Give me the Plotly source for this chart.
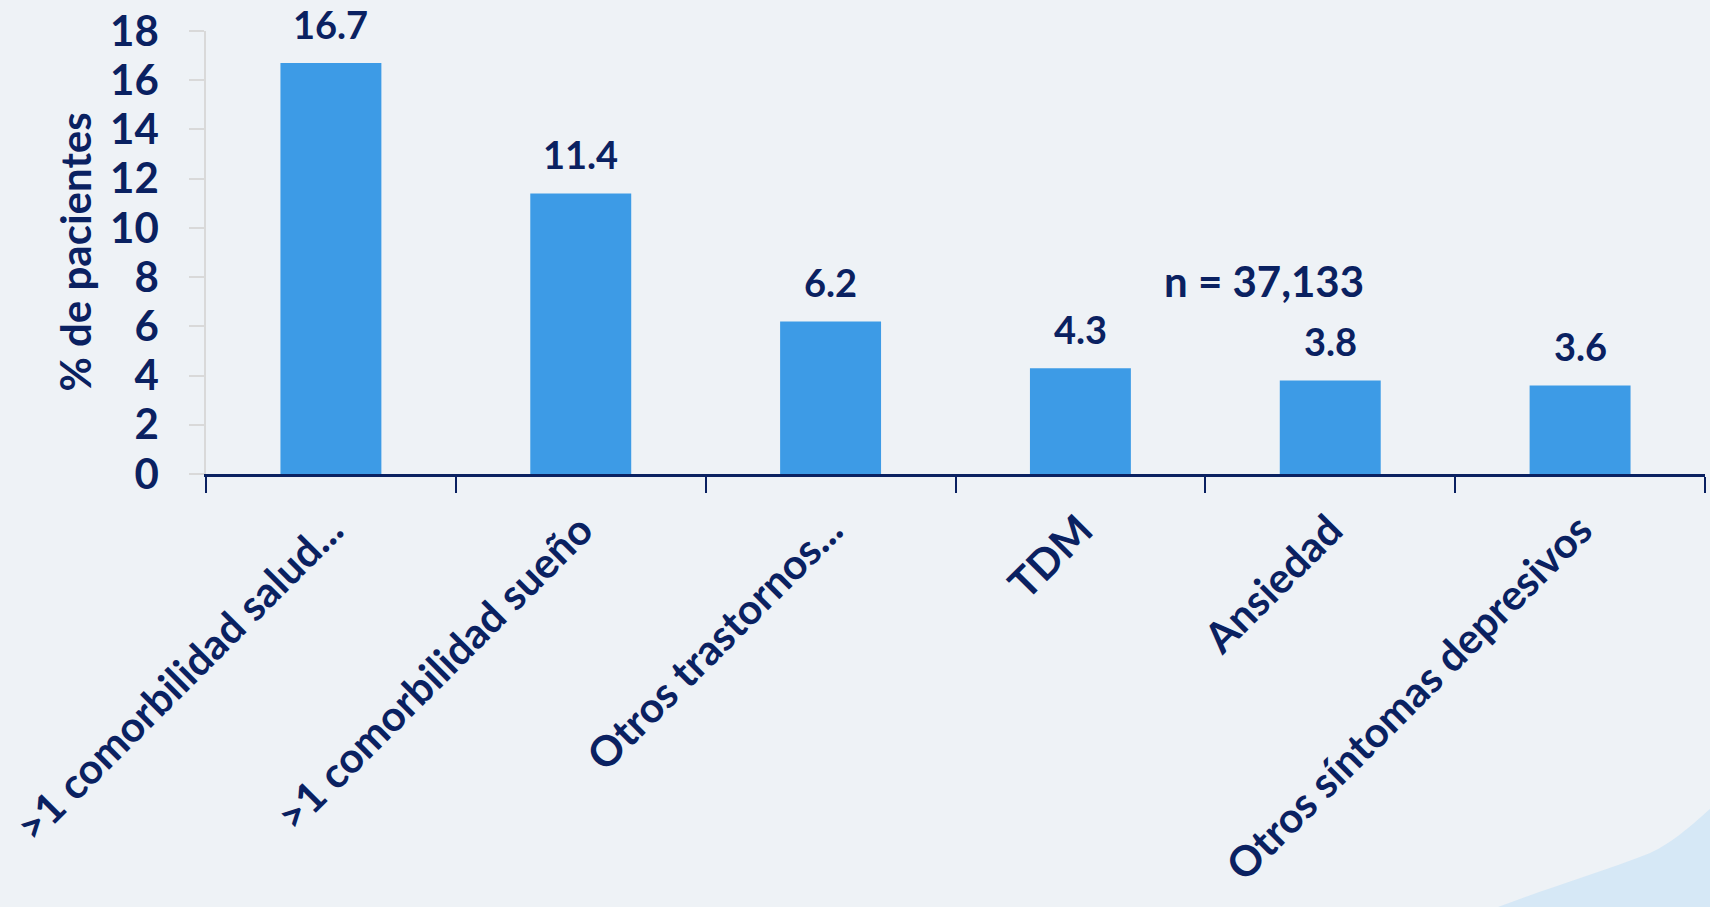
import plotly.graph_objects as go

# Comorbidities, share of patients (%)
categories = [
    ">1 comorbilidad salud...",
    ">1 comorbilidad sueño",
    "Otros trastornos...",
    "TDM",
    "Ansiedad",
    "Otros síntomas depresivos",
]
values = [16.7, 11.4, 6.2, 4.3, 3.8, 3.6]
y_ticks = [0, 2, 4, 6, 8, 10, 12, 14, 16, 18]
sample_note = "n = 37,133"
y_title = "% de pacientes"

NAVY = "#0a2161"
BG = "#eef2f6"
FONT = "Lato"

fig = go.Figure()
fig.add_trace(
    go.Bar(
        x=categories,
        y=values,
        marker=dict(color="#3d9be6", line=dict(width=0)),
        width=0.404,
        hoverinfo="x+y",
    )
)

# value labels above each bar
for cat, val in zip(categories, values):
    fig.add_annotation(
        x=cat, y=val, text=f"{val}", showarrow=False,
        xanchor="center", yanchor="bottom", yshift=14,
        font=dict(family=FONT, size=38, color=NAVY, weight=700),
    )

# sample size note
fig.add_annotation(
    x=0.706, xref="paper", y=7.85, yref="y", text=sample_note, showarrow=False,
    xanchor="center", yanchor="middle",
    font=dict(family=FONT, size=42, color=NAVY, weight=700),
)

# y-axis title
fig.add_annotation(
    x=-0.088, xref="paper", y=0.5, yref="paper", text=y_title, showarrow=False,
    textangle=-90, xanchor="center", yanchor="middle",
    font=dict(family=FONT, size=42, color=NAVY, weight=700),
)

# soft wave in the lower right corner
fig.add_shape(
    type="path", xref="paper", yref="paper", layer="below",
    path="M 0.86,-0.98 C 0.89,-0.94 0.93,-0.90 0.963,-0.856 "
         "C 0.98,-0.83 0.995,-0.78 1.004,-0.754 L 1.004,-0.98 Z",
    fillcolor="rgba(205,228,246,0.75)", line=dict(width=0),
)

fig.update_layout(
    width=1710, height=907,
    margin=dict(l=206, r=5, t=31, b=433),
    paper_bgcolor=BG, plot_bgcolor=BG,
    showlegend=False,
    bargap=0.596,
    font=dict(family=FONT, color=NAVY),
)

fig.update_xaxes(
    type="category",
    showline=True, linecolor=NAVY, linewidth=2.5,
    ticks="outside", tickson="boundaries", ticklen=16, tickwidth=1.5, tickcolor=NAVY,
    tickangle=-45, ticklabelstandoff=12,
    tickfont=dict(family=FONT, size=42, color=NAVY, weight=700),
    showgrid=False, zeroline=False, automargin=False,
)

fig.update_yaxes(
    range=[0, 18], tickvals=y_ticks,
    showline=True, linecolor="#d9d9d9", linewidth=1.5,
    ticks="outside", ticklen=15, tickwidth=1.5, tickcolor="#d9d9d9",
    ticklabelstandoff=22,
    tickfont=dict(family=FONT, size=42, color=NAVY, weight=700),
    showgrid=False, zeroline=False, automargin=False,
)

fig.write_html("out.html")
